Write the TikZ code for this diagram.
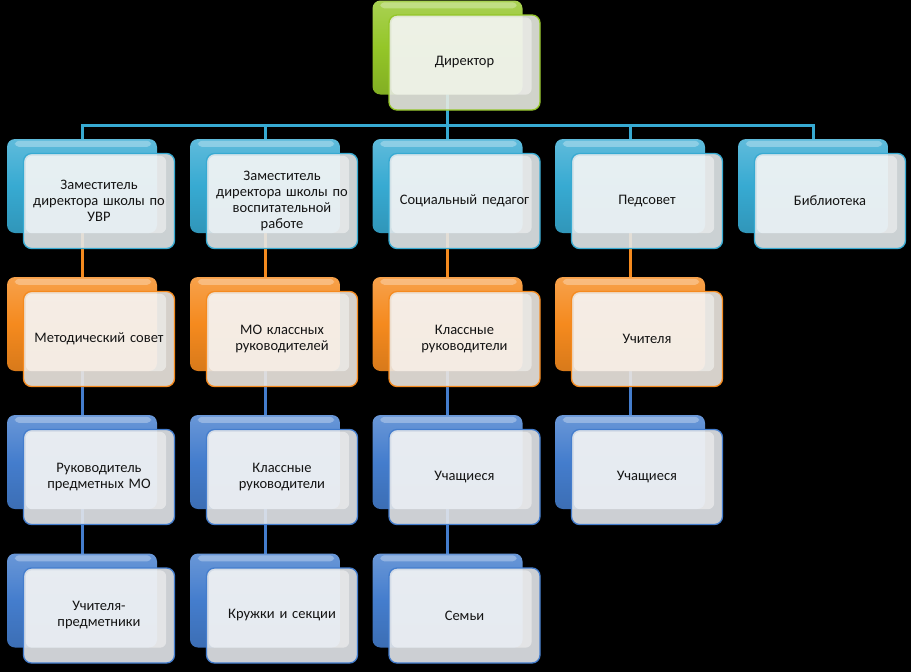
\documentclass[tikz,border=0pt]{standalone}
\usepackage{fontspec}
\setmainfont{Carlito}
\pgfdeclarelayer{back}
\pgfdeclarelayer{bg}
\pgfsetlayers{back,bg,main}
\definecolor{cyanC}{RGB}{55,170,210}
\definecolor{orangeC}{RGB}{245,138,30}
\definecolor{blueC}{RGB}{68,125,205}
\definecolor{greenC}{RGB}{148,198,40}
\definecolor{txtC}{RGB}{20,20,20}
\tikzset{
  backbox/.style={rounded corners=8pt, minimum width=150pt, minimum height=94pt, inner sep=0pt,
    top color=#1!80!white, bottom color=#1!88!black, middle color=#1},
  backhi/.style={fill=white, opacity=.3, rounded corners=4pt},
  frontbox/.style={rounded corners=8pt, minimum width=151pt, minimum height=95pt, inner sep=0pt,
    draw=#1, line width=1.3pt, fill=#1!6!white!93!black, fill opacity=0.9},
  fronthi/.style={fill=white, opacity=.45, rounded corners=6pt},
  boxtext/.style={text width=145pt, align=center, inner sep=0pt, text=txtC,
    font=\fontsize{14.5}{16}\selectfont},
  conn/.style={draw=#1, line width=3pt},
}
\newcommand\orgbox[5]{%
  \node[backbox=#4] (b#1) at (#2,#3) {};
  \fill[backhi] ([shift={(8pt,-2pt)}]b#1.north west) rectangle ([shift={(-6pt,-8pt)}]b#1.north east);
  \node[frontbox=#4] (f#1) at ([shift={(17pt,-15pt)}]b#1.center) {};
  \fill[fronthi] ([shift={(3pt,-3pt)}]f#1.north west) rectangle ([shift={(-9pt,16pt)}]f#1.south east);
  \node[boxtext] (t#1) at (f#1.center) {#5};
}
\begin{document}
\begin{tikzpicture}[x=1pt,y=-1pt]
\begin{pgfonlayer}{back}
\fill[black] (0,0) rectangle (911,672);
\end{pgfonlayer}
\useasboundingbox (0,0) rectangle (911,672);
% director
\orgbox{d}{447.5}{47.5}{greenC}{Директор}
% column 1
\orgbox{11}{82}{186}{cyanC}{Заместитель\\директора школы по\\УВР}
\orgbox{12}{82}{324}{orangeC}{Методический совет}
\orgbox{13}{82}{462}{blueC}{Руководитель\\предметных МО}
\orgbox{14}{82}{600.5}{blueC}{Учителя-\\предметники}
% column 2
\orgbox{21}{265}{186}{cyanC}{Заместитель\\директора школы по\\воспитательной\\работе}
\orgbox{22}{265}{324}{orangeC}{МО классных\\руководителей}
\orgbox{23}{265}{462}{blueC}{Классные\\руководители}
\orgbox{24}{265}{600.5}{blueC}{Кружки и секции}
% column 3
\orgbox{31}{447.5}{186}{cyanC}{Социальный педагог}
\orgbox{32}{447.5}{324}{orangeC}{Классные\\руководители}
\orgbox{33}{447.5}{462}{blueC}{Учащиеся}
\orgbox{34}{447.5}{600.5}{blueC}{Семьи}
% column 4
\orgbox{41}{630}{186}{cyanC}{Педсовет}
\orgbox{42}{630}{324}{orangeC}{Учителя}
\orgbox{43}{630}{462}{blueC}{Учащиеся}
% column 5
\orgbox{51}{813}{186}{cyanC}{Библиотека}
\begin{pgfonlayer}{bg}
  \coordinate (bus) at (447.5,125);
  \draw[conn=cyanC] (bd.center) -- (bus);
  \foreach \c in {11,21,31,41,51} {
    \draw[conn=cyanC] (bus) -| (b\c.center);
  }
  \draw[conn=orangeC] (b11.center) -- (b12.center);
  \draw[conn=orangeC] (b21.center) -- (b22.center);
  \draw[conn=orangeC] (b31.center) -- (b32.center);
  \draw[conn=orangeC] (b41.center) -- (b42.center);
  \draw[conn=blueC] (b12.center) -- (b13.center);
  \draw[conn=blueC] (b22.center) -- (b23.center);
  \draw[conn=blueC] (b32.center) -- (b33.center);
  \draw[conn=blueC] (b42.center) -- (b43.center);
  \draw[conn=blueC] (b13.center) -- (b14.center);
  \draw[conn=blueC] (b23.center) -- (b24.center);
  \draw[conn=blueC] (b33.center) -- (b34.center);
\end{pgfonlayer}
\end{tikzpicture}
\end{document}
